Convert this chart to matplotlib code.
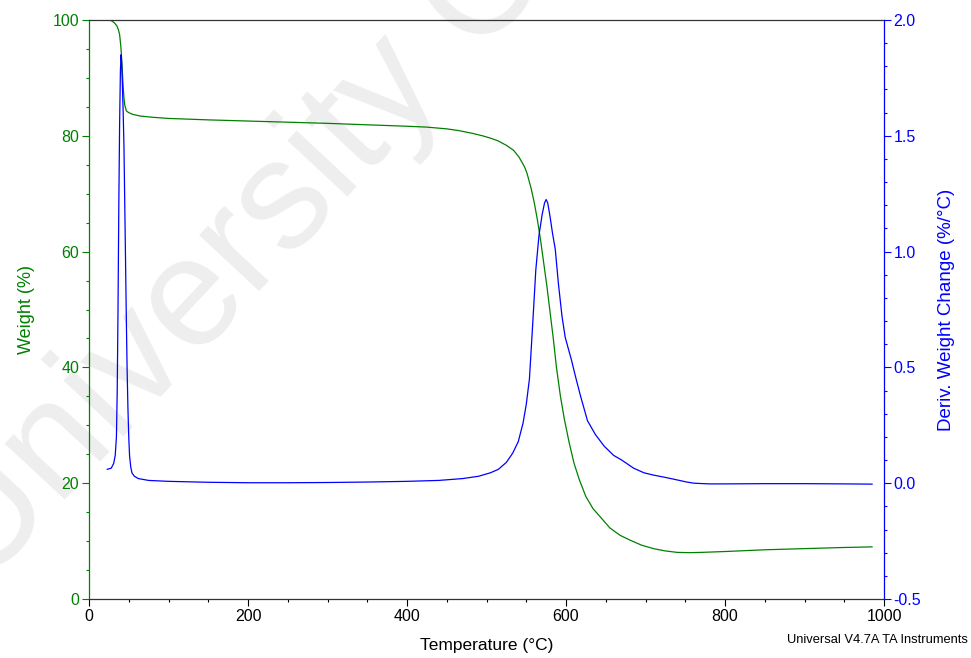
import matplotlib
matplotlib.use("Agg")
import matplotlib.pyplot as plt
from matplotlib.ticker import MultipleLocator

plt.rcParams['font.family'] = ['Liberation Sans', 'DejaVu Sans']

# Weight curve (%) vs temperature (°C)
weight_temp = [22, 28, 32, 35, 37, 38.5, 40, 41, 42, 43, 44, 45, 47, 50, 55, 65, 80, 100,
               150, 200, 250, 300, 350, 400, 425, 450, 465, 483, 495, 505, 515, 525, 534,
               541, 548, 551, 556, 560, 564, 568, 572, 576, 580, 584, 588, 593, 598, 604,
               610, 617, 625, 634, 643, 655, 668, 680, 695, 710, 725, 740, 755, 770, 800,
               850, 900, 950, 985]
weight_pct = [100, 99.9, 99.5, 99, 98.3, 97.5, 95.5, 93.5, 91, 88.5, 86.5, 85.3, 84.3, 84.0,
              83.7, 83.4, 83.2, 83.0, 82.75, 82.55, 82.35, 82.15, 81.9, 81.65, 81.5, 81.2,
              80.9, 80.4, 80.0, 79.6, 79.1, 78.35, 77.5, 76.3, 74.6, 73.5, 71.0, 68.5, 65.5,
              62.0, 58.0, 54.0, 49.5, 45.0, 40.0, 35.0, 31.0, 27.0, 23.5, 20.5, 17.7, 15.6,
              14.2, 12.3, 11.0, 10.2, 9.3, 8.7, 8.3, 8.05, 8.0, 8.05, 8.2, 8.5, 8.7, 8.9, 9.0]

# Derivative weight change (%/°C) vs temperature (°C)
deriv_temp = [23, 28, 31, 33, 34.5, 35.5, 36.5, 37.5, 38.5, 39.5, 40.3, 41, 42, 43, 44, 45,
              46, 47, 48, 49, 50, 51, 52.5, 54, 57, 62, 75, 100, 150, 200, 250, 300, 350,
              400, 440, 470, 490, 505, 515, 525, 533, 540, 546, 550, 554, 558, 562, 566,
              570, 573, 575, 577, 580, 583, 586.5, 590.5, 595, 599, 603, 607, 612, 618,
              627, 637, 648, 660, 670, 685, 698, 710, 725, 740, 752, 761, 780, 800, 850,
              900, 950, 985]
deriv_val = [0.06, 0.065, 0.085, 0.12, 0.2, 0.4, 0.75, 1.2, 1.55, 1.78, 1.85, 1.82, 1.72,
             1.6, 1.45, 1.2, 0.95, 0.7, 0.48, 0.32, 0.2, 0.12, 0.07, 0.045, 0.03, 0.02,
             0.012, 0.008, 0.004, 0.002, 0.002, 0.003, 0.005, 0.008, 0.012, 0.02, 0.03,
             0.045, 0.06, 0.09, 0.13, 0.18, 0.26, 0.34, 0.45, 0.68, 0.92, 1.07, 1.16, 1.21,
             1.225, 1.21, 1.15, 1.08, 1.01, 0.86, 0.72, 0.63, 0.58, 0.53, 0.46, 0.38, 0.27,
             0.21, 0.16, 0.12, 0.1, 0.065, 0.045, 0.035, 0.025, 0.014, 0.005, 0.0, -0.003,
             -0.003, -0.002, -0.002, -0.003, -0.004]

GREEN = '#008000'
BLUE = '#0000ff'

fig = plt.figure(figsize=(9.71, 6.58), dpi=100)
ax1 = fig.add_axes([89/971, 1-599/658, (884-89)/971, (599-20)/658])
ax1.patch.set_alpha(0)

# watermark
fig.text(238/971, 1-255/658, 'University C', fontsize=112, color='#eeeeee',
         rotation=47, ha='center', va='center', zorder=-10)

ax2 = ax1.twinx()

ax1.plot(weight_temp, weight_pct, color=GREEN, lw=0.9)
ax2.plot(deriv_temp, deriv_val, color=BLUE, lw=0.9)

ax1.set_xlim(0, 1000)
ax1.set_ylim(0, 100)
ax2.set_ylim(-0.5, 2.0)

ax1.xaxis.set_major_locator(MultipleLocator(200))
ax1.xaxis.set_minor_locator(MultipleLocator(50))
ax1.yaxis.set_major_locator(MultipleLocator(20))
ax1.yaxis.set_minor_locator(MultipleLocator(5))
ax2.yaxis.set_major_locator(MultipleLocator(0.5))
ax2.yaxis.set_minor_locator(MultipleLocator(0.1))
ax2.yaxis.set_major_formatter(plt.FormatStrFormatter('%.1f'))

for sp in ['top', 'bottom']:
    ax1.spines[sp].set_color('#333333')
    ax2.spines[sp].set_visible(False)
ax1.spines['left'].set_color(GREEN)
ax1.spines['right'].set_visible(False)
ax2.spines['left'].set_visible(False)
ax2.spines['right'].set_color(BLUE)
for ax in (ax1, ax2):
    for sp in ax.spines.values():
        sp.set_linewidth(0.9)

ax1.tick_params(axis='x', which='major', length=5, width=0.8, colors='black', labelsize=11.5, pad=2)
ax1.tick_params(axis='x', which='minor', length=2.5, width=0.8, colors='black')
ax1.tick_params(axis='y', which='major', length=5, width=0.8, colors=GREEN, labelsize=11.5, pad=2)
ax1.tick_params(axis='y', which='minor', length=2.5, width=0.8, colors=GREEN)
ax2.tick_params(axis='y', which='major', length=5, width=0.8, colors=BLUE, labelsize=11.5, pad=2)
ax2.tick_params(axis='y', which='minor', length=2.5, width=0.8, colors=BLUE)

ax1.set_xlabel('Temperature (°C)', fontsize=12.5, labelpad=10)
ax1.set_ylabel('Weight (%)', fontsize=13, color=GREEN, labelpad=13)
ax2.set_ylabel('Deriv. Weight Change (%/°C)', fontsize=13.5, color=BLUE, labelpad=12)

fig.text(968/971, 1-640/658, 'Universal V4.7A TA Instruments', fontsize=9.3,
         ha='right', va='center', color='black')

fig.savefig('out.png', dpi=100)
